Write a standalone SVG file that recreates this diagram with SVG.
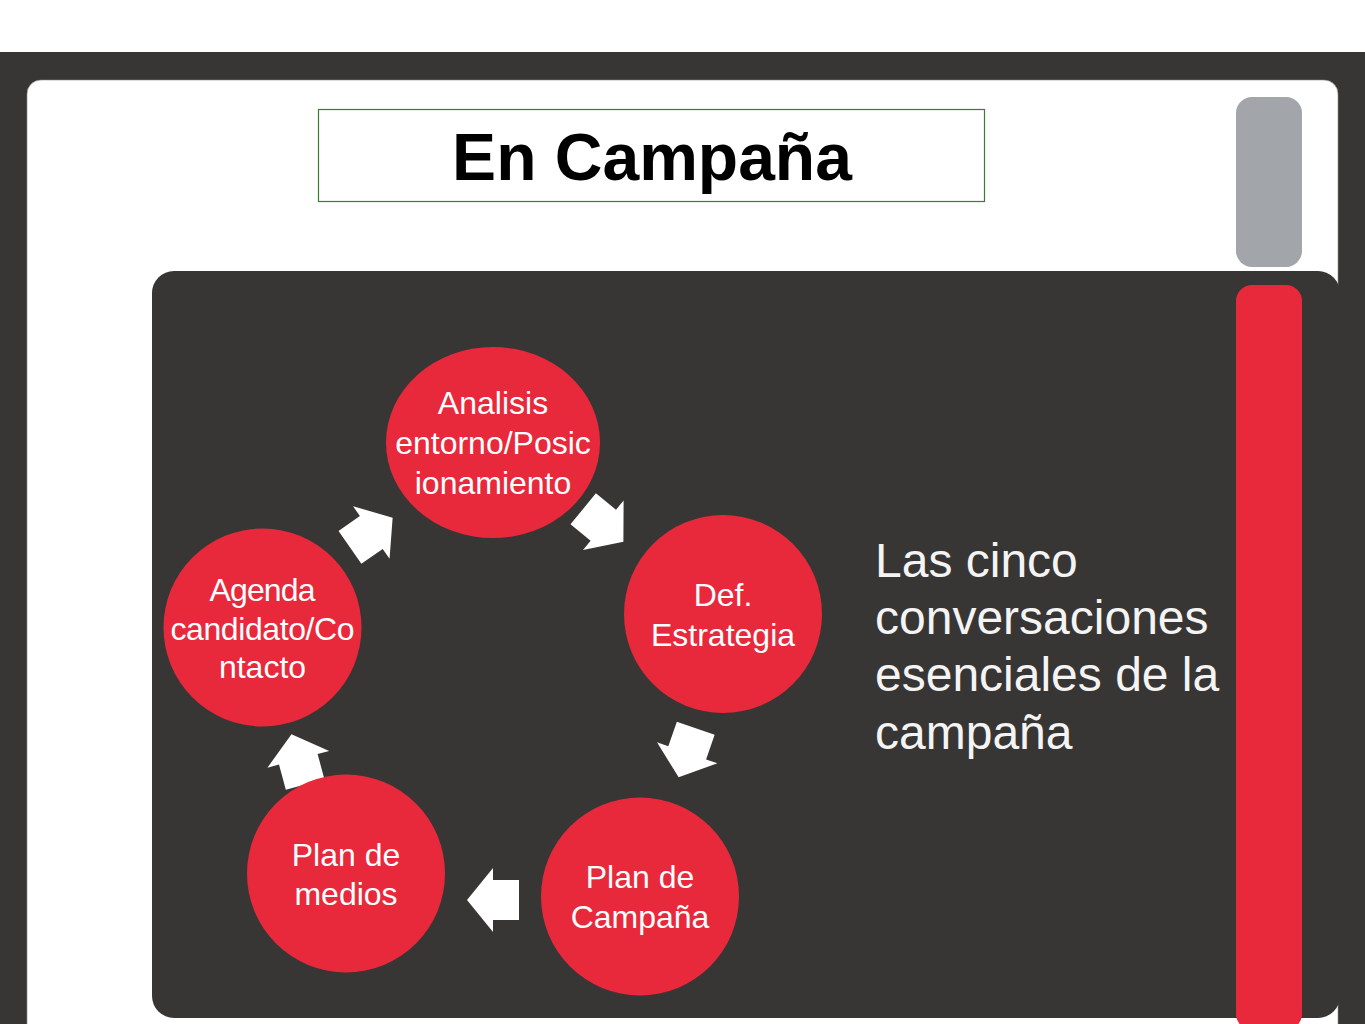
<svg xmlns="http://www.w3.org/2000/svg" width="1365" height="1024" viewBox="0 0 1365 1024">
  <style>
    .dark { fill: #383635; }
    .node { fill: #E8293B; }
    .ntext { font-family: "Liberation Sans", Arial, sans-serif; font-size: 32px; fill: #FFFFFF; text-anchor: middle; }
    .side { font-family: "Liberation Sans", Arial, sans-serif; font-size: 48px; fill: #F4F4F4; }
    .title { font-family: "Liberation Sans", Arial, sans-serif; font-size: 66px; font-weight: bold; fill: #000000; text-anchor: middle; }
    .arr { fill: #FFFFFF; }
  </style>
  <defs>
    <polygon id="blockArrow" points="26,0 0,-32 0,-20 -26,-20 -26,20 0,20 0,32"/>
  </defs>

  <!-- background -->
  <rect x="0" y="0" width="1365" height="1024" fill="#FFFFFF"/>
  <rect class="dark" x="0" y="52" width="1365" height="972"/>
  <rect x="27" y="80" width="1311" height="980" rx="14" ry="14" fill="#FFFFFF" stroke="#8A8A8A" stroke-width="0.6"/>
  <rect class="dark" x="152" y="271" width="1188" height="747" rx="22" ry="22"/>
  <rect x="1236" y="97" width="66" height="170" rx="16" ry="16" fill="#A2A6AB"/>
  <rect x="1236" y="285" width="66" height="745" rx="16" ry="16" fill="#E8293B"/>

  <!-- title -->
  <g id="title">
    <rect x="318.5" y="109.5" width="666" height="92" fill="#FFFFFF" stroke="#3A7D2F" stroke-width="1.2"/>
    <text class="title" x="652" y="180">En Campaña</text>
  </g>

  <!-- connectors -->
  <g id="connectors">
    <use href="#blockArrow" class="arr" transform="translate(603.3,525.3) rotate(39.4)"/>
    <use href="#blockArrow" class="arr" transform="translate(687.2,752.8) rotate(109.2)"/>
    <use href="#blockArrow" class="arr" transform="translate(493,900) rotate(180)"/>
    <use href="#blockArrow" class="arr" transform="translate(298.3,759.3) rotate(-105.2)"/>
    <use href="#blockArrow" class="arr" transform="translate(371.3,532.5) rotate(-34.8)"/>
  </g>

  <!-- nodes -->
  <g id="node-analisis">
    <ellipse class="node" cx="493" cy="442.5" rx="107" ry="95.5"/>
    <text class="ntext" x="493" y="414">Analisis</text>
    <text class="ntext" x="493" y="454">entorno/Posic</text>
    <text class="ntext" x="493" y="494">ionamiento</text>
  </g>
  <g id="node-estrategia">
    <circle class="node" cx="723" cy="614" r="99"/>
    <text class="ntext" x="723" y="606">Def.</text>
    <text class="ntext" x="723" y="646">Estrategia</text>
  </g>
  <g id="node-plan-campana">
    <circle class="node" cx="640" cy="896.5" r="99"/>
    <text class="ntext" x="640" y="888">Plan de</text>
    <text class="ntext" x="640" y="928">Campaña</text>
  </g>
  <g id="node-plan-medios">
    <circle class="node" cx="346" cy="873.5" r="99"/>
    <text class="ntext" x="346" y="866">Plan de</text>
    <text class="ntext" x="346" y="905">medios</text>
  </g>
  <g id="node-agenda">
    <circle class="node" cx="262.5" cy="627.5" r="99"/>
    <text class="ntext" x="262.5" y="601" textLength="106">Agenda</text>
    <text class="ntext" x="262.5" y="640" textLength="184">candidato/Co</text>
    <text class="ntext" x="262.5" y="678">ntacto</text>
  </g>

  <!-- side text -->
  <g id="side-text">
    <text class="side" x="875" y="577">Las cinco</text>
    <text class="side" x="875" y="634">conversaciones</text>
    <text class="side" x="875" y="691">esenciales de la</text>
    <text class="side" x="875" y="749">campaña</text>
  </g>
</svg>
